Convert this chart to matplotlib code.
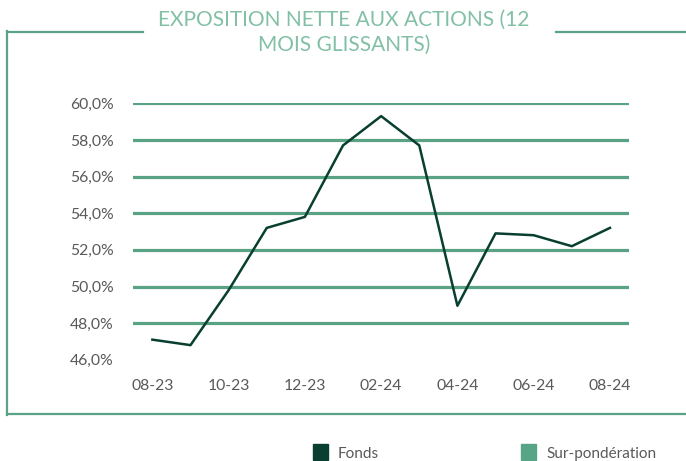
import matplotlib
matplotlib.use("Agg")
import matplotlib.pyplot as plt
from matplotlib.lines import Line2D
from matplotlib.patches import Rectangle

months = ["08-23", "09-23", "10-23", "11-23", "12-23", "01-24", "02-24",
          "03-24", "04-24", "05-24", "06-24", "07-24", "08-24"]
fonds = [47.1, 46.8, 49.8, 53.2, 53.8, 57.7, 59.3, 57.7, 48.95, 52.9, 52.8, 52.2, 53.2]
y_ticks = [46, 48, 50, 52, 54, 56, 58, 60]
title = "EXPOSITION NETTE AUX ACTIONS (12\nMOIS GLISSANTS)"
legend_labels = ["Fonds", "Sur-pondération"]

plt.rcParams['font.family'] = ['Lato', 'DejaVu Sans']

W, H = 686, 461
fig = plt.figure(figsize=(W / 100, H / 100), dpi=100)
ax = fig.add_axes([133.3 / W, 1 - 359.8 / H, (629 - 133.3) / W, 256.5 / H])

grid_col = "#5aa284"
line_col = "#083f30"
frame_col = "#5ba386"
txt_col = "#595959"

for v in y_ticks[1:]:
    ax.axhline(v, color=grid_col, lw=2.3, zorder=1)

x = list(range(len(months)))
ax.plot(x, fonds, color=line_col, lw=1.8, zorder=3)

ax.set_xlim(-0.5, len(months) - 0.5)
ax.set_ylim(46, 60)
ax.set_yticks(y_ticks)
ax.set_yticklabels([f"{v:.1f}%".replace(".", ",") for v in y_ticks])
ax.set_xticks(x[::2])
ax.set_xticklabels(months[::2])
ax.tick_params(length=0, labelsize=11.3, colors=txt_col)
ax.tick_params(axis="y", pad=14)
ax.tick_params(axis="x", pad=14)
for s in ax.spines.values():
    s.set_visible(False)

# frame around the chart
def fline(x0, y0, x1, y1):
    fig.add_artist(Line2D([x0 / W, x1 / W], [1 - y0 / H, 1 - y1 / H],
                          color=frame_col, lw=1.6))

fline(7, 32, 143, 32)
fline(556, 32, 686, 32)
fline(7, 31.3, 7, 414.7)
fline(7, 414, 686, 414)

fig.text(344 / W, 1 - 32 / H, title, ha="center", va="center",
         fontsize=15, color="#82c0a6", linespacing=1.3)

# legend
leg_cols = [line_col, "#55a586"]
leg_x = [313, 521]
for lx, col, lab in zip(leg_x, leg_cols, legend_labels):
    fig.add_artist(Rectangle((lx / W, 1 - 461 / H + 1 / H), 15 / W, 16 / H,
                             color=col, transform=fig.transFigure))
    fig.text((lx + 25) / W, 1 - 454 / H, lab, ha="left", va="center",
             fontsize=11, color=txt_col)

fig.savefig("out.png", dpi=100)
